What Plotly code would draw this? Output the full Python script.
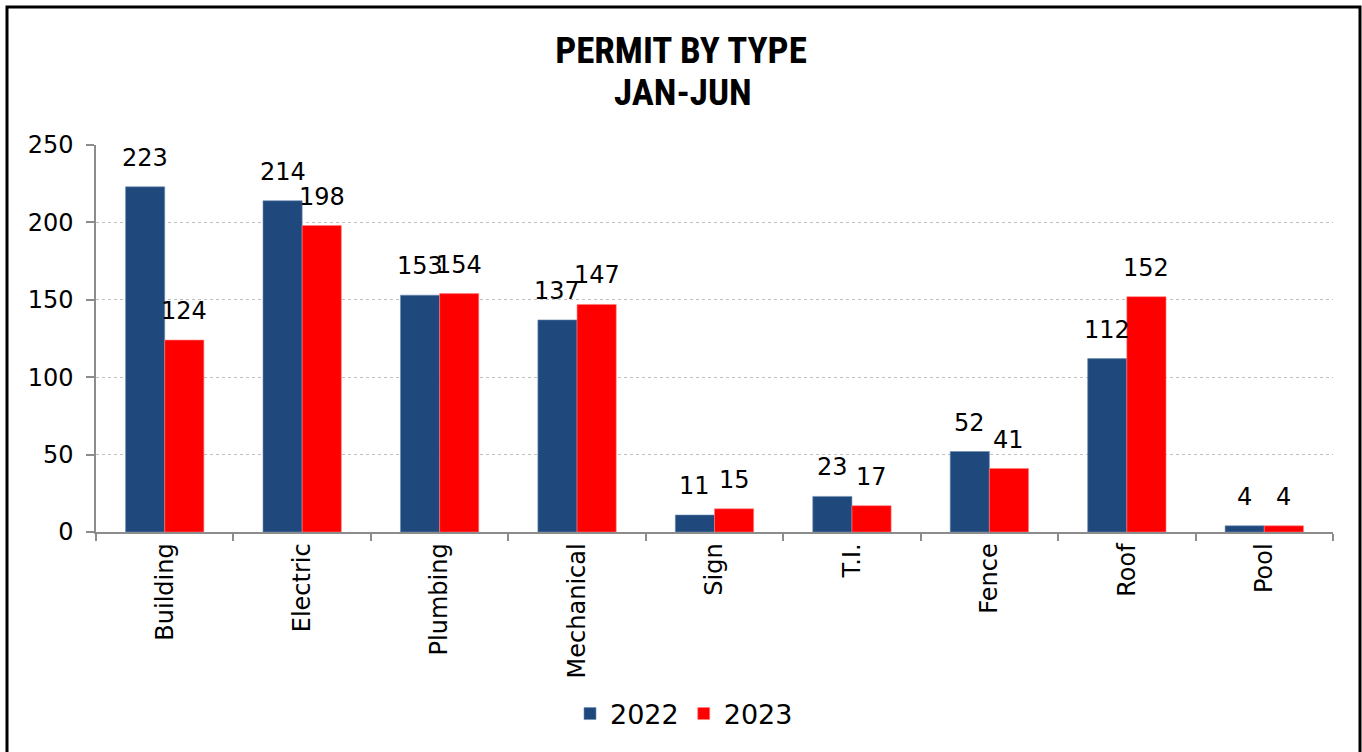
import plotly.graph_objects as go

categories = ["Building", "Electric", "Plumbing", "Mechanical", "Sign", "T.I.", "Fence", "Roof", "Pool"]
values_2022 = [223, 214, 153, 137, 11, 23, 52, 112, 4]
values_2023 = [124, 198, 154, 147, 15, 17, 41, 152, 4]
series_names = ["2022", "2023"]
series_colors = ["#1F497D", "#FF0000"]
y_ticks = [0, 50, 100, 150, 200, 250]

FONT = "'DejaVu Sans', 'Noto Sans', sans-serif"
TITLE_FONT = "'Liberation Sans Narrow', 'Roboto Condensed', 'DejaVu Sans Condensed', sans-serif"
W, H = 1362, 752
L, R, T, B = 96, 29, 145, 220
pw, ph = W - L - R, H - T - B
BARGAP = 0.43

def px_x(x):
    return (x - L) / pw

def px_y(y):
    return (H - B - y) / ph

fig = go.Figure()
for name, vals, col, edge in zip(series_names, [values_2022, values_2023], series_colors, ["#6f8bb0", "#ff8080"]):
    fig.add_trace(go.Bar(
        x=categories, y=vals, name=name,
        marker=dict(color=col, line=dict(color=edge, width=0.6)),
    ))

# data labels, placed above each bar through the axes
bar_w = pw / len(categories) * (1 - BARGAP) / 2
for k, vals in enumerate([values_2022, values_2023]):
    shift = (k - 0.5) * bar_w
    for c, v in zip(categories, vals):
        fig.add_annotation(
            x=c, y=v, xref="x", yref="y", text=str(v), showarrow=False,
            xanchor="center", yanchor="bottom", xshift=shift, yshift=13,
            font=dict(size=24, family=FONT, color="#000000"),
        )

fig.update_layout(
    width=W, height=H,
    margin=dict(l=L, r=R, t=T, b=B, autoexpand=False),
    paper_bgcolor="white", plot_bgcolor="white",
    barmode="group", bargap=BARGAP, bargroupgap=0,
    font=dict(family=FONT, size=22, color="#000000"),
    title=dict(
        text="<b>PERMIT BY TYPE</b>",
        x=0.5, xanchor="center", xref="container",
        y=1 - 50 / H, yanchor="middle", yref="container",
        font=dict(family=TITLE_FONT, size=37, color="#000000"),
    ),
    legend=dict(
        orientation="h", x=px_x(684), xanchor="center", y=px_y(714), yanchor="middle",
        font=dict(size=27, family=FONT), itemwidth=30, traceorder="normal",
    ),
    showlegend=True,
)
fig.add_annotation(
    text="<b>JAN-JUN</b>", xref="paper", yref="paper", x=px_x(683), y=px_y(92),
    xanchor="center", yanchor="middle", showarrow=False,
    font=dict(family=TITLE_FONT, size=37, color="#000000"),
)

fig.update_xaxes(
    type="category", showline=True, linecolor="#8c8c8c", linewidth=1.5,
    ticks="outside", tickson="boundaries", ticklen=7, tickcolor="#8c8c8c", tickwidth=1.5,
    tickangle=-90, tickfont=dict(size=24, family=FONT, color="#000000"),
    showgrid=False, zeroline=False,
)
fig.update_yaxes(
    range=[0, 250], tickvals=y_ticks, showline=True, linecolor="#8c8c8c", linewidth=1.5,
    ticks="outside", ticklen=8, tickcolor="#8c8c8c", tickwidth=1.5, ticklabelstandoff=8,
    tickfont=dict(size=24, family=FONT, color="#000000"),
    showgrid=True, gridcolor="#bfbfbf", griddash="dot", gridwidth=1,
    zeroline=False,
)

fig.add_shape(
    type="rect", xref="paper", yref="paper",
    x0=px_x(7), x1=px_x(1360), y0=px_y(760), y1=px_y(7),
    line=dict(color="#000000", width=3), fillcolor="rgba(0,0,0,0)", layer="above",
)

fig.write_html(
    "out.html",
    config={"displayModeBar": False},
    post_script="document.body.style.margin='0';document.body.style.overflow='hidden';",
)
